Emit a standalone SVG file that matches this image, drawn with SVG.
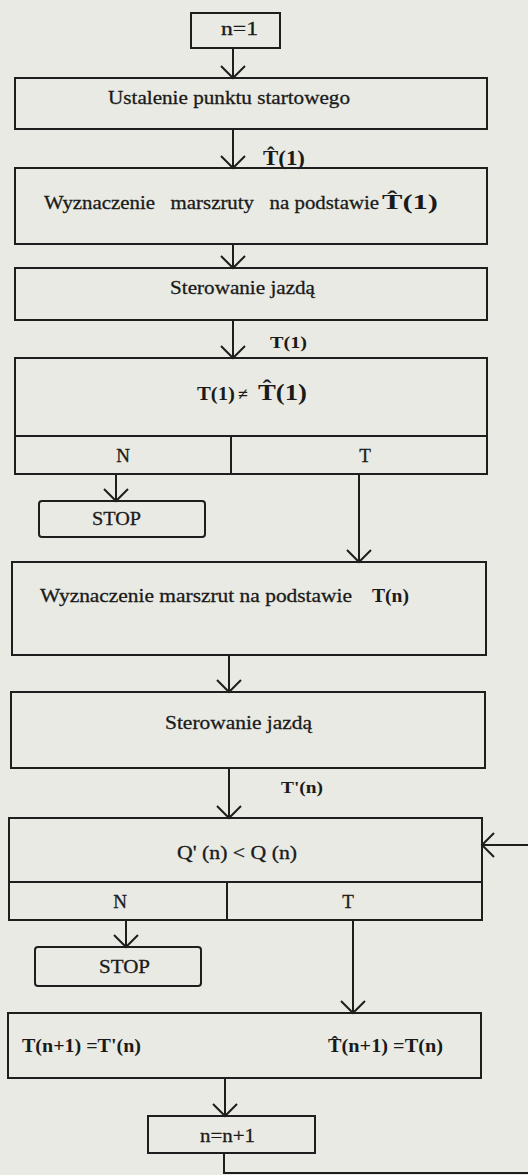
<svg xmlns="http://www.w3.org/2000/svg" width="528" height="1175" viewBox="0 0 528 1175">
<style>
.box{fill:none;stroke:#1e1e1e;stroke-width:2}
.ln{fill:none;stroke:#1e1e1e;stroke-width:2}
.t{font-family:"Liberation Serif","Times New Roman",serif;fill:#1a1a1a;font-size:19px;stroke:#1a1a1a;stroke-width:0.3}
.m{font-family:"Liberation Serif","Times New Roman",serif;fill:#1a1a1a;font-weight:bold}
</style>
<defs>
<marker id="ah" markerUnits="userSpaceOnUse" markerWidth="30" markerHeight="30" viewBox="-15 -15 30 30" refX="0" refY="0" orient="auto">
<path d="M-12,-12 L0,0 L-12,12" fill="none" stroke="#1e1e1e" stroke-width="2"/>
</marker>
</defs>
<rect width="528" height="1175" fill="#e9eae3"/>

<g id="connectors">
<line class="ln" x1="233" y1="48" x2="233" y2="78" marker-end="url(#ah)"/>
<line class="ln" x1="233" y1="129" x2="233" y2="168" marker-end="url(#ah)"/>
<line class="ln" x1="233" y1="244" x2="233" y2="268" marker-end="url(#ah)"/>
<line class="ln" x1="233" y1="320" x2="233" y2="358" marker-end="url(#ah)"/>
<line class="ln" x1="116" y1="474" x2="116" y2="501" marker-end="url(#ah)"/>
<line class="ln" x1="359" y1="474" x2="359" y2="562" marker-end="url(#ah)"/>
<line class="ln" x1="229" y1="655" x2="229" y2="692" marker-end="url(#ah)"/>
<line class="ln" x1="229" y1="768" x2="229" y2="818" marker-end="url(#ah)"/>
<line class="ln" x1="126" y1="920" x2="126" y2="947" marker-end="url(#ah)"/>
<line class="ln" x1="353" y1="920" x2="353" y2="1013" marker-end="url(#ah)"/>
<line class="ln" x1="225" y1="1078" x2="225" y2="1116" marker-end="url(#ah)"/>
<path class="ln" d="M224,1153 L224,1173 L528,1173"/>
<line class="ln" x1="528" y1="845" x2="482" y2="845" marker-end="url(#ah)"/>
<text class="m" x="263" y="165" font-size="21" textLength="42" lengthAdjust="spacingAndGlyphs">T̂(1)</text>
<text class="m" x="270" y="348" font-size="17" textLength="37" lengthAdjust="spacingAndGlyphs">T(1)</text>
<text class="m" x="281" y="793" font-size="17" textLength="42" lengthAdjust="spacingAndGlyphs">T'(n)</text>
</g>

<g id="n1">
<rect class="box" x="191" y="13" width="89" height="35"/>
<text class="t" x="221" y="35" textLength="37" lengthAdjust="spacingAndGlyphs">n=1</text>
</g>

<g id="ustalenie">
<rect class="box" x="15" y="78" width="472" height="51"/>
<text class="t" x="108" y="104" textLength="242" lengthAdjust="spacingAndGlyphs">Ustalenie punktu startowego</text>
</g>

<g id="wyznaczenie1">
<rect class="box" x="15" y="168" width="472" height="76"/>
<text class="t" x="44" y="209" textLength="335" lengthAdjust="spacingAndGlyphs" xml:space="preserve">Wyznaczenie   marszruty   na podstawie</text>
<text class="m" x="382" y="209" font-size="22" font-weight="normal" textLength="56" lengthAdjust="spacingAndGlyphs">T̂(1)</text>
</g>

<g id="sterowanie1">
<rect class="box" x="15" y="268" width="472" height="52"/>
<text class="t" x="170" y="294" textLength="145" lengthAdjust="spacingAndGlyphs">Sterowanie jazdą</text>
</g>

<g id="decyzja1">
<rect class="box" x="15" y="358" width="472" height="116"/>
<line class="ln" x1="15" y1="436" x2="487" y2="436"/>
<line class="ln" x1="231" y1="436" x2="231" y2="474"/>
<text class="m" x="197" y="400" font-size="19" textLength="38" lengthAdjust="spacingAndGlyphs">T(1)</text>
<text class="m" x="238" y="400" font-size="18">≠</text>
<text class="m" x="258" y="400" font-size="23" font-weight="normal" textLength="49" lengthAdjust="spacingAndGlyphs">T̂(1)</text>
<text class="t" x="123" y="462" text-anchor="middle">N</text>
<text class="t" x="365" y="462" text-anchor="middle">T</text>
</g>

<g id="stop1">
<rect class="box" x="39" y="501" width="166" height="36" rx="3"/>
<text class="t" x="92" y="525" textLength="49" lengthAdjust="spacingAndGlyphs">STOP</text>
</g>

<g id="wyznaczenie2">
<rect class="box" x="12" y="562" width="474" height="93"/>
<text class="t" x="40" y="602" textLength="312" lengthAdjust="spacingAndGlyphs">Wyznaczenie marszrut na podstawie</text>
<text class="m" x="372" y="602" font-size="19" textLength="37" lengthAdjust="spacingAndGlyphs">T(n)</text>
</g>

<g id="sterowanie2">
<rect class="box" x="11" y="692" width="474" height="76"/>
<text class="t" x="165" y="729" textLength="147" lengthAdjust="spacingAndGlyphs">Sterowanie jazdą</text>
</g>

<g id="decyzja2">
<rect class="box" x="9" y="818" width="473" height="102"/>
<line class="ln" x1="9" y1="882" x2="482" y2="882"/>
<line class="ln" x1="227" y1="882" x2="227" y2="920"/>
<text class="t" x="177" y="859" textLength="120" lengthAdjust="spacingAndGlyphs" xml:space="preserve">Q' (n) &lt; Q (n)</text>
<text class="t" x="120" y="908" text-anchor="middle">N</text>
<text class="t" x="348" y="908" text-anchor="middle">T</text>
</g>

<g id="stop2">
<rect class="box" x="35" y="947" width="166" height="39" rx="3"/>
<text class="t" x="99" y="973" textLength="51" lengthAdjust="spacingAndGlyphs">STOP</text>
</g>

<g id="przypisanie">
<rect class="box" x="8" y="1013" width="473" height="65"/>
<text class="m" x="22" y="1052" font-size="18" textLength="119" lengthAdjust="spacingAndGlyphs">T(n+1) =T'(n)</text>
<text class="m" x="328" y="1052" font-size="18" textLength="115" lengthAdjust="spacingAndGlyphs">T̂(n+1) =T(n)</text>
</g>

<g id="n2">
<rect class="box" x="148" y="1116" width="167" height="37"/>
<text class="t" x="200" y="1142" textLength="55" lengthAdjust="spacingAndGlyphs">n=n+1</text>
</g>
</svg>
